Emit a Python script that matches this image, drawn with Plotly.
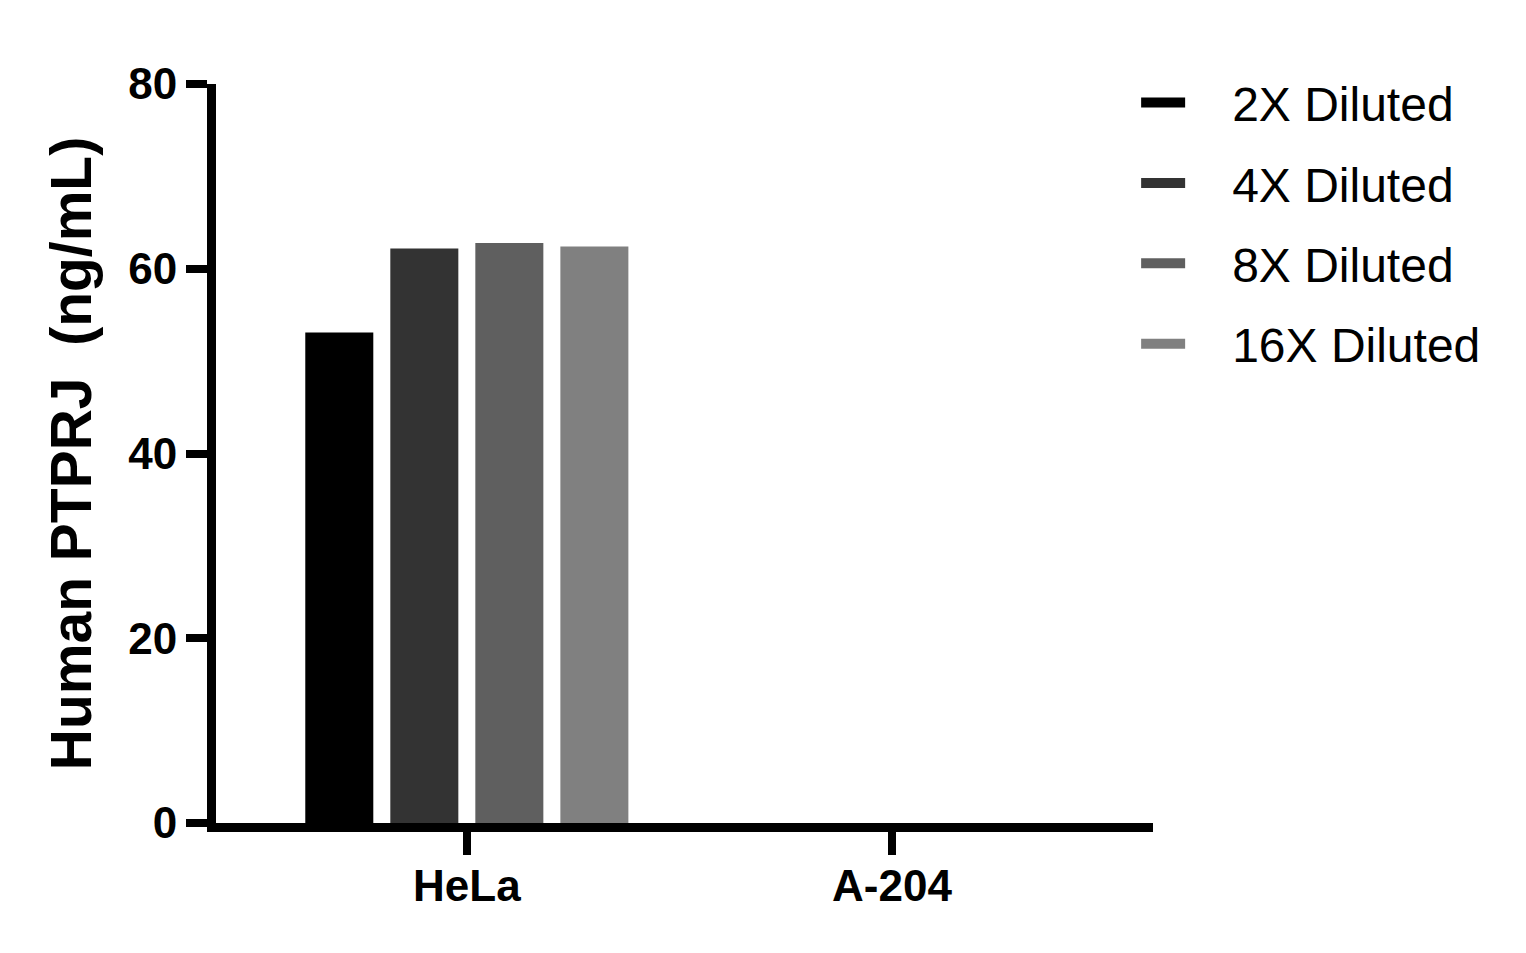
import plotly.graph_objects as go

cell_lines = ["HeLa", "A-204"]
dilutions = ["2X Diluted", "4X Diluted", "8X Diluted", "16X Diluted"]
colors = ["#000000", "#333333", "#5f5f5f", "#808080"]

# PTPRJ (ng/mL) per dilution, HeLa then A-204
vals_2x = [53.1, 0]
vals_4x = [62.2, 0]
vals_8x = [62.8, 0]
vals_16x = [62.4, 0]
all_vals = [vals_2x, vals_4x, vals_8x, vals_16x]

y_ticks = [0, 20, 40, 60, 80]

FONT = "Arial, Liberation Sans, Helvetica, sans-serif"

fig = go.Figure()
for name, vals, col in zip(dilutions, all_vals, colors):
    fig.add_trace(go.Bar(x=cell_lines, y=vals, name=name,
                         marker=dict(color=col, line=dict(width=0)),
                         showlegend=False))

# legend entries drawn as short thick dashes like the original
for name, col in zip(dilutions, colors):
    fig.add_trace(go.Scatter(x=[None], y=[None], mode="lines", name=name,
                             legendgroup=name,
                             line=dict(color=col, width=12, dash="44px,300px")))

fig.update_layout(
    width=1526, height=953,
    margin=dict(l=208, r=381, t=76, b=138),
    paper_bgcolor="white", plot_bgcolor="white",
    barmode="group", bargap=0.2, bargroupgap=0.2,
    font=dict(family=FONT, color="black"),
    legend=dict(x=0.982, xanchor="left", y=1.026, yanchor="top",
                font=dict(size=48, family=FONT, color="black"),
                itemwidth=86, tracegroupgap=15,
                bgcolor="rgba(0,0,0,0)"),
)

fig.update_xaxes(
    range=[-0.59, 1.614], showline=True, linewidth=9, linecolor="black",
    ticks="outside", ticklen=23, tickwidth=8, tickcolor="black",
    tickfont=dict(size=44, family=FONT, color="black", weight="bold"),
    ticklabelstandoff=-7,
    showgrid=False, zeroline=False,
)

fig.update_yaxes(
    range=[0, 80], tickvals=y_ticks, showline=True, linewidth=9, linecolor="black",
    ticks="outside", ticklen=21, tickwidth=8, tickcolor="black",
    tickfont=dict(size=44, family=FONT, color="black", weight="bold"),
    title=dict(text="Human PTPRJ  (ng/mL)",
               font=dict(size=57, family=FONT, color="black", weight="bold"),
               standoff=22),
    showgrid=False, zeroline=False,
)

fig.write_html("out.html")
